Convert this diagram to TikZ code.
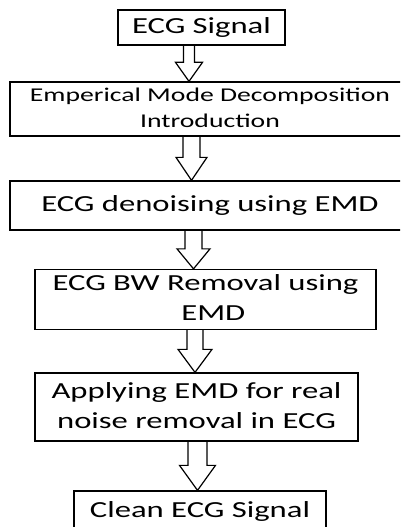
\documentclass[tikz,border=0pt]{standalone}
\usepackage{fontspec}
\setmainfont{Carlito}
\usepackage{graphicx}
\usetikzlibrary{calc}

% text set a little wide, one or more centred lines
\newcommand\widetext[1]{\scalebox{1.42}[1]{\begin{tabular}{@{}c@{}}#1\end{tabular}}}

% hollow block arrow from the bottom of #1 to the top of #2 at x = #3
% #4 shaft half width, #5 head half width, #6 head length
\newcommand\blockarrow[6]{%
  \coordinate (#1-s) at (#3,0 |- #1.south);
  \coordinate (#1-t) at (#3,0 |- #2.north);
  \coordinate (#1-h) at ($(#1-t)+(0,-#6)$);
  \draw[arrowline] ($(#1-s)+(-#4,0)$) -- ($(#1-h)+(-#4,0)$) -- ($(#1-h)+(-#5,0)$)
    -- (#1-t) -- ($(#1-h)+(#5,0)$) -- ($(#1-h)+(#4,0)$) -- ($(#1-s)+(#4,0)$);
}

\begin{document}
\begin{tikzpicture}[x=1pt,y=-1pt,
  box/.style={draw, line width=1.3pt, inner sep=0pt,
    font=\fontsize{23}{30}\selectfont},
  smallbox/.style={box, font=\fontsize{19.5}{26}\selectfont},
  arrowline/.style={draw, line width=1.2pt, line join=miter}]
\useasboundingbox (0,0) rectangle (400,527);
\clip (0,0) rectangle (400,527);

\node[box, minimum width=167, minimum height=35] (b1) at (201.5,27.5)
  {\widetext{ECG Signal}};
\node[smallbox, minimum width=400, minimum height=54] (b2) at (210,109)
  {\widetext{Emperical Mode Decomposition\\Introduction}};
\node[box, minimum width=400, minimum height=49] (b3) at (210,205.5)
  {\widetext{ECG denoising using EMD}};
\node[box, minimum width=341, minimum height=59] (b4) at (205.5,299.5)
  {\widetext{ECG BW Removal using\\\hspace*{11pt}EMD}};
\node[box, minimum width=323, minimum height=68] (b5) at (196.5,407)
  {\widetext{Applying EMD for real\\noise removal in ECG}};
\node[box, minimum width=252, minimum height=40] (b6) at (200,511)
  {\widetext{Clean ECG Signal}};

\blockarrow{b1}{b2}{189}{5.5}{13.5}{19}
\blockarrow{b2}{b3}{191.5}{8.5}{15.5}{23}
\blockarrow{b3}{b4}{193.5}{8.5}{16.5}{20}
\blockarrow{b4}{b5}{195}{8}{17}{23}
\blockarrow{b5}{b6}{197.5}{9.5}{18}{25}
\end{tikzpicture}
\end{document}
